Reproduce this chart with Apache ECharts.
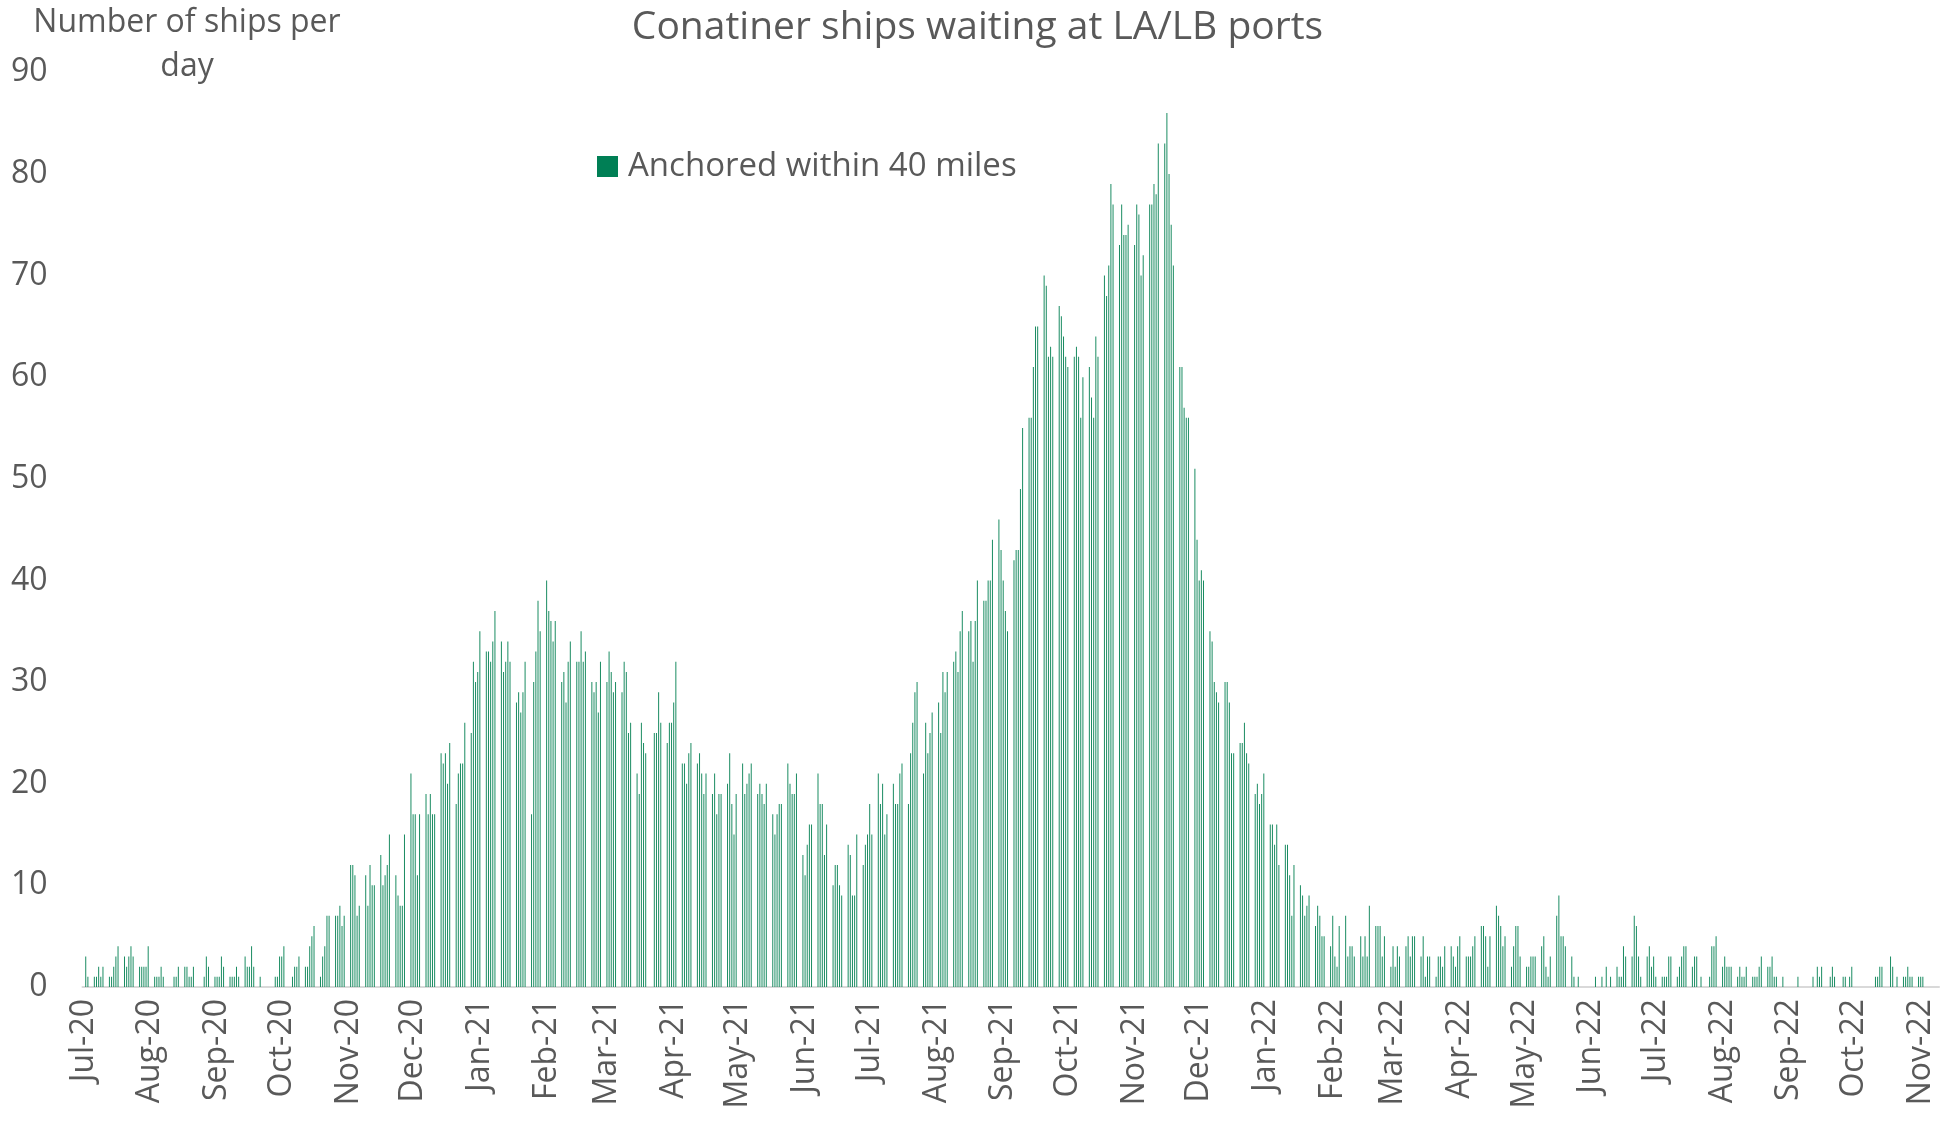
<!DOCTYPE html>
<html>
<head>
<meta charset="utf-8">
<script src="https://cdn.jsdelivr.net/npm/echarts@6/dist/echarts.min.js"></script>
<style>
  html, body { margin: 0; padding: 0; background: #fff; }
  #chart { width: 1955px; height: 1128px; }
</style>
</head>
<body>
<div id="chart"></div>
<script>
// ships anchored within 40 miles, one value per weekday (Mon-Fri) of each month
var jul20 = [0,3,1, 1,1,2,1,2, 1,1,2,3,4, 3,2,3,4,3, 2,2,2,2,4];
var aug20 = [1,1,1,2,1, 0,0,1,1,2, 2,2,1,1,2, 0,0,1,3,2, 1];
var sep20 = [1,1,3,2, 1,1,1,2,1, 3,2,2,4,2, 1,0,0,0,0, 1,1,3];
var oct20 = [3,4, 0,1,2,2,3, 2,2,4,5,6, 1,3,4,7,7, 7,7,8,6,7];
var nov20 = [12,12,11,7,8, 11,8,12,10,10, 13,10,11,12,15, 11,9,8,8,15, 21];
var dec20 = [17,17,11,17, 19,17,19,17,17, 23,22,23,20,24, 18,21,22,22,26, 25,32,30,31];
var jan21 = [35, 33,33,32,34,37, 34,31,32,34,32, 28,29,27,29,32, 17,30,33,38,35];
var feb21 = [40,37,36,34,36, 30,31,28,32,34, 32,32,35,32,33, 30,29,30,27,32];
var mar21 = [30,33,31,29,30, 29,32,31,25,26, 21,19,26,24,23, 0,25,25,29,26, 24,26,26];
var apr21 = [28,32, 22,22,20,23,24, 22,23,21,19,21, 19,21,17,19,19, 20,23,18,15,19];
var may21 = [22,19,20,21,22, 19,20,19,18,20, 17,15,17,18,18, 22,20,19,19,21, 13];
var jun21 = [11,14,16,16, 21,18,18,13,16, 10,12,12,10,9, 14,13,9,9,15, 12,14,15];
var jul21 = [18,15, 21,18,20,15,17, 20,18,18,21,22, 18,23,26,29,30, 21,26,23,25,27];
var aug21 = [28,25,31,29,31, 32,33,31,35,37, 35,36,32,36,40, 38,38,40,40,44, 46,43];
var sep21 = [40,37,35, 42,43,43,49,55, 56,56,61,65,65, 70,69,62,63,62, 67,66,64,62];
var oct21 = [61, 62,63,62,56,60, 61,58,56,64,62, 70,68,71,79,77, 73,77,74,74,75];
var nov21 = [73,77,76,70,72, 77,77,79,78,83, 83,86,80,75,71, 61,61,57,56,56, 51,44];
var dec21 = [40,41,40, 35,34,30,29,28, 30,30,28,23,23, 24,24,26,23,22, 19,20,18,19,21];
var jan22 = [16,16,14,16,12, 14,14,11,7,12, 10,9,7,8,9, 6,8,7,5,5, 4];
var feb22 = [7,3,2,6, 7,3,4,4,3, 5,3,5,3,8, 6,6,6,3,5, 2];
var mar22 = [4,2,4,3, 4,5,3,5,5, 3,5,1,3,3, 1,3,3,2,4, 4,3,2,4];
var apr22 = [5, 3,3,3,4,5, 6,6,5,2,5, 8,7,6,4,5, 2,4,6,6,3];
var may22 = [2,2,3,3,3, 4,5,2,1,3, 7,9,5,5,4, 3,1,0,1,0, 0,0];
var jun22 = [0,0,1, 1,0,2,0,1, 2,1,1,4,3, 3,7,6,3,1, 3,4,2,3];
var jul22 = [1, 1,1,1,3,3, 1,2,3,4,4, 2,3,3,0,1, 0,1,4,4,5];
var aug22 = [2,3,2,2,2, 1,2,1,1,2, 1,1,1,2,3, 2,2,3,1,1, 1,0,0];
var sep22 = [0,0, 1,0,0,0,0, 1,0,2,1,2, 0,1,2,1,0, 1,1,0,1,2];
var oct22 = [0,0,0,0,0, 0,1,1,2,2, 0,3,2,0,1, 1,1,2,1,1, 1];
var nov22 = [1,1];

var months = [jul20, aug20, sep20, oct20, nov20, dec20,
  jan21, feb21, mar21, apr21, may21, jun21, jul21, aug21, sep21, oct21, nov21, dec21,
  jan22, feb22, mar22, apr22, may22, jun22, jul22, aug22, sep22, oct22, nov22];
var monthNames = ['Jan','Feb','Mar','Apr','May','Jun','Jul','Aug','Sep','Oct','Nov','Dec'];

// build daily categories Jul 1 2020 .. Nov 9 2022, weekends left empty
var days = [];
var values = [];
var start = Date.UTC(2020, 6, 1);
var end = Date.UTC(2022, 10, 9);
var used = {};
for (var t = start; t <= end; t += 86400000) {
  var dt = new Date(t);
  var y = dt.getUTCFullYear(), m = dt.getUTCMonth(), d = dt.getUTCDate(), wd = dt.getUTCDay();
  var key = y + '-' + (m < 9 ? '0' : '') + (m + 1) + '-' + (d < 10 ? '0' : '') + d;
  days.push(key);
  var mi = (y - 2020) * 12 + m - 6;
  if (wd === 0 || wd === 6 || !months[mi]) { values.push('-'); continue; }
  used[mi] = used[mi] || 0;
  var v = months[mi][used[mi]];
  used[mi]++;
  values.push(v === undefined ? '-' : v);
}

function isMonthStart(index, value) {
  return value.slice(8) === '01';
}

var txt = '#595959';
var font = 'Open Sans';

var myChart = echarts.init(document.getElementById('chart'));
option = {
  animation: false,
  textStyle: { fontFamily: font },
  title: {
    text: 'Conatiner ships waiting at LA/LB ports',
    left: 'center',
    top: 3,
    textStyle: { fontSize: 39, fontWeight: 'normal', color: txt, fontFamily: font }
  },
  graphic: [{
    type: 'text',
    x: 187,
    y: 1,
    style: {
      text: 'Number of ships per\nday',
      textAlign: 'center',
      fill: txt,
      fontSize: 32,
      lineHeight: 44,
      fontFamily: font
    }
  }],
  legend: {
    left: 592,
    top: 145,
    itemWidth: 21,
    itemHeight: 21,
    itemGap: 10,
    textStyle: { fontSize: 33, color: txt, fontFamily: font, padding: [0, 0, 0, 5] },
    data: [{ name: 'Anchored within 40 miles', icon: 'rect', itemStyle: { color: '#007f55' } }]
  },
  grid: { left: 82.5, right: 16, top: 72.3, bottom: 141 },
  xAxis: {
    type: 'category',
    data: days,
    axisLine: { lineStyle: { color: '#d9d9d9', width: 2 } },
    axisTick: {
      interval: isMonthStart,
      alignWithLabel: true,
      length: 12,
      lineStyle: { color: '#d9d9d9', width: 2 }
    },
    axisLabel: {
      interval: isMonthStart,
      rotate: 90,
      margin: 12,
      fontSize: 32,
      color: txt,
      fontFamily: font,
      formatter: function (value) {
        return monthNames[parseInt(value.slice(5, 7), 10) - 1] + '-' + value.slice(2, 4);
      }
    }
  },
  yAxis: {
    type: 'value',
    min: 0,
    max: 90,
    interval: 10,
    splitLine: { show: false },
    axisLine: { show: false },
    axisTick: { show: false },
    axisLabel: { fontSize: 32, color: txt, margin: 35, fontFamily: font, padding: [8, 0, 0, 0] }
  },
  series: [{
    name: 'Anchored within 40 miles',
    type: 'bar',
    data: values,
    barWidth: 1,
    itemStyle: { color: '#1a8c62' }
  }]
};
myChart.setOption(option);
</script>
</body>
</html>
